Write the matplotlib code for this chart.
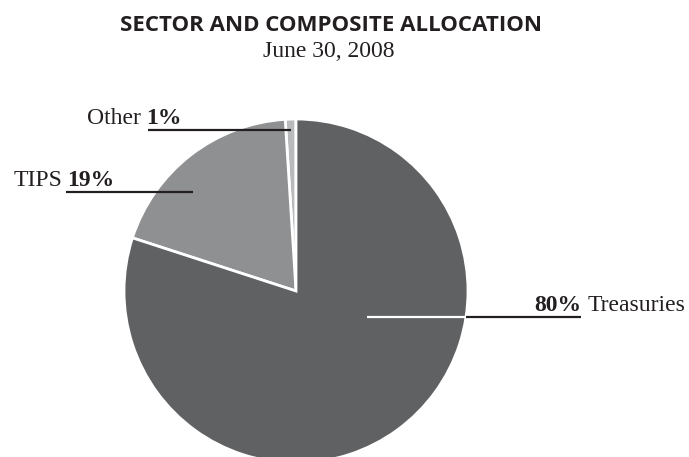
import numpy as np
import matplotlib
matplotlib.use("Agg")
import matplotlib.pyplot as plt

# Allocation data (percent)
sectors = ["Other", "TIPS", "Treasuries"]
shares = [1, 19, 80]
colors = ["#b9babc", "#8f9092", "#606163"]

title = "SECTOR AND COMPOSITE ALLOCATION"
subtitle = "June 30, 2008"

W, H = 689, 457
fig = plt.figure(figsize=(W / 100, H / 100), dpi=100)
ax = fig.add_axes([0, 0, 1, 1])

# pie geometry in pixel units (y measured from top)
cx, cy_top, R = 296, 291, 172
cy = H - cy_top

wedges, _ = ax.pie(shares, colors=colors, startangle=90, counterclock=True,
                   center=(cx, cy), radius=R,
                   wedgeprops=dict(edgecolor="white", linewidth=2))
ax.set_xlim(0, W)
ax.set_ylim(0, H)
ax.set_aspect("equal")
ax.axis("off")

serif = "Liberation Serif"
lab_size = 17
line_col = "#231f20"

def anchor(angle_deg, rfrac):
    a = np.deg2rad(angle_deg)
    return cx + R * rfrac * np.cos(a), cy + R * rfrac * np.sin(a)

# leader anchors inside each wedge: (angle, radius fraction)
anchors = {"Other": (91.8, 0.937), "TIPS": (136.1, 0.83), "Treasuries": (-20.1, 0.44)}

# Other
ax_, ay_ = anchor(*anchors["Other"])
x_bold = 146
ax.plot([x_bold + 2, ax_], [ay_, ay_], color=line_col, lw=1.6, solid_capstyle="butt")
ax.text(x_bold, ay_ + 6, f"{shares[0]}%", family=serif, weight="bold", size=lab_size,
        ha="left", va="baseline", color=line_col)
ax.text(x_bold - 5, ay_ + 6, sectors[0], family=serif, size=lab_size, ha="right",
        va="baseline", color=line_col)

# TIPS
ax_, ay_ = anchor(*anchors["TIPS"])
x_bold = 67
ax.plot([x_bold - 1, ax_], [ay_, ay_], color=line_col, lw=1.6, solid_capstyle="butt")
ax.text(x_bold, ay_ + 6, f"{shares[1]}%", family=serif, weight="bold", size=lab_size,
        ha="left", va="baseline", color=line_col)
ax.text(x_bold - 5, ay_ + 6, sectors[1], family=serif, size=lab_size, ha="right",
        va="baseline", color=line_col)

# Treasuries: white inside the wedge, dark outside
ax_, ay_ = anchor(*anchors["Treasuries"])
edge_x = cx + np.sqrt(R ** 2 - (ay_ - cy) ** 2)
x_bold_end = 581
ax.plot([ax_, edge_x], [ay_, ay_], color="white", lw=1.6, solid_capstyle="butt")
ax.plot([edge_x, x_bold_end], [ay_, ay_], color=line_col, lw=1.6, solid_capstyle="butt")
ax.text(x_bold_end, ay_ + 6, f"{shares[2]}%", family=serif, weight="bold", size=lab_size,
        ha="right", va="baseline", color=line_col)
ax.text(x_bold_end + 7, ay_ + 6, sectors[2], family=serif, size=lab_size, ha="left",
        va="baseline", color=line_col)

# headings
ax.text(331, H - 31, title, family="Open Sans", weight="bold", size=16,
        ha="center", va="baseline", color=line_col)
ax.text(329, H - 57, subtitle, family=serif, size=17, ha="center", va="baseline",
        color=line_col)

fig.savefig("out.png", dpi=100)
